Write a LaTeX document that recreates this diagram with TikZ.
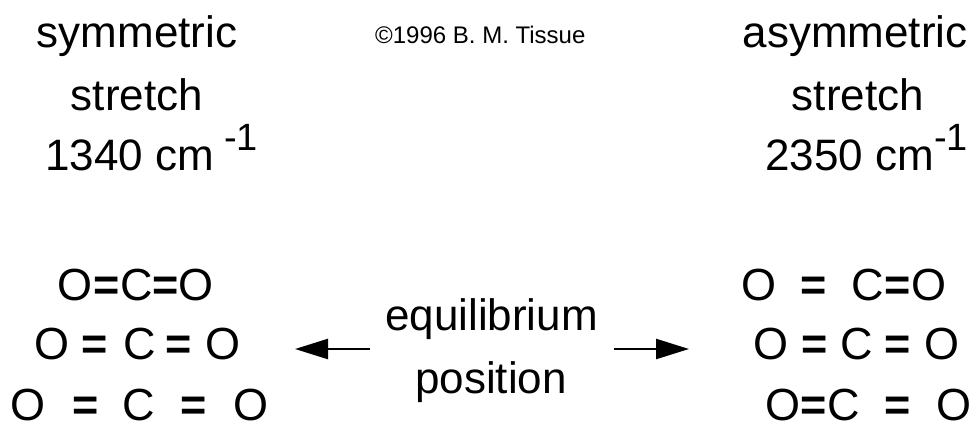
\documentclass[tikz,border=0pt]{standalone}
\usepackage{fontspec}
\setmainfont{Liberation Sans}
\usetikzlibrary{arrows.meta}
\begin{document}
\begin{tikzpicture}[x=1pt,y=-1pt,
 big/.style={font=\fontsize{44}{44}\selectfont, inner sep=0pt, anchor=base},
 bigw/.style={font=\fontsize{44}{44}\selectfont, inner sep=0pt, anchor=base west},
 sup/.style={font=\fontsize{38}{38}\selectfont, inner sep=0pt, anchor=base west},
 small/.style={font=\fontsize{24}{24}\selectfont, inner sep=0pt, anchor=base west},
 atom/.style={font=\fontsize{45}{45}\selectfont, inner sep=0pt, anchor=base},
 bond/.style={font=\fontsize{45}{45}\selectfont\bfseries, inner sep=0pt, anchor=base},
 arr/.style={line width=2.4pt, -{Triangle[length=33pt,width=20pt]}}]
\useasboundingbox (0,0) rectangle (975,421);
% headings
\node[big] (sym) at (137,47) {symmetric};
\node[big] (sst) at (137,110) {stretch};
\node[bigw] (sw) at (45,170) {1340 cm};
\node[sup] (ssup) at (224,150) {-1};
\node[small] (copy) at (375,43) {©1996 B. M. Tissue};
\node[big] (asym) at (855,47) {asymmetric};
\node[big] (ast) at (858,110) {stretch};
\node[bigw] (aw) at (765,170) {2350 cm};
\node[sup] (asup) at (934,150) {-1};
% left molecules
\node[atom] (l1a) at (75.5,300) {O};
\node[bond] (l1b) at (107,300) {=};
\node[atom] (l1c) at (137,300) {C};
\node[bond] (l1d) at (166,300) {=};
\node[atom] (l1e) at (196,300) {O};
\node[atom] (l2a) at (52,359.5) {O};
\node[bond] (l2b) at (95,359.5) {=};
\node[atom] (l2c) at (139.5,359.5) {C};
\node[bond] (l2d) at (179,359.5) {=};
\node[atom] (l2e) at (222.5,359.5) {O};
\node[atom] (l3a) at (28,420) {O};
\node[bond] (l3b) at (85.5,420) {=};
\node[atom] (l3c) at (139,420) {C};
\node[bond] (l3d) at (193.5,420) {=};
\node[atom] (l3e) at (251,420) {O};
% right molecules
\node[atom] (r1a) at (759,300) {O};
\node[bond] (r1b) at (814,300) {=};
\node[atom] (r1c) at (867.5,300) {C};
\node[bond] (r1d) at (898,300) {=};
\node[atom] (r1e) at (929,300) {O};
\node[atom] (r2a) at (771,359.5) {O};
\node[bond] (r2b) at (814.5,359.5) {=};
\node[atom] (r2c) at (856.5,359.5) {C};
\node[bond] (r2d) at (898,359.5) {=};
\node[atom] (r2e) at (941.5,359.5) {O};
\node[atom] (r3a) at (783,420) {O};
\node[bond] (r3b) at (814,420) {=};
\node[atom] (r3c) at (844,420) {C};
\node[bond] (r3d) at (898,420) {=};
\node[atom] (r3e) at (954,420) {O};
% centre label and arrows
\node[big] (eq1) at (491.5,330) {equilibrium};
\node[big] (eq2) at (491,393) {position};
\coordinate (la1) at (370,349);
\coordinate (la2) at (295,349);
\coordinate (ra1) at (614,349);
\coordinate (ra2) at (689,349);
\draw[arr] (la1) -- (la2);
\draw[arr] (ra1) -- (ra2);
\end{tikzpicture}
\end{document}
